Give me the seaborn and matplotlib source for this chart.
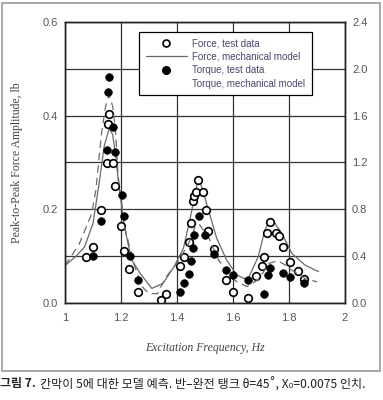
import numpy as np
import pandas as pd
import seaborn as sns
import matplotlib.pyplot as plt
from matplotlib.lines import Line2D
from matplotlib.patches import Rectangle

# force test data (left axis, lb)
force_x = [1.074, 1.099, 1.129, 1.149, 1.152, 1.158, 1.170, 1.180, 1.200, 1.210,
           1.229, 1.261, 1.342, 1.361, 1.411, 1.426, 1.442, 1.451, 1.458, 1.460,
           1.467, 1.476, 1.492, 1.502, 1.512, 1.532, 1.574, 1.601, 1.652, 1.682,
           1.702, 1.712, 1.722, 1.733, 1.752, 1.763, 1.777, 1.805, 1.833, 1.854]
force_y = [0.098, 0.119, 0.199, 0.300, 0.382, 0.404, 0.300, 0.250, 0.164, 0.112,
           0.073, 0.023, 0.006, 0.019, 0.078, 0.099, 0.130, 0.170, 0.218, 0.229,
           0.237, 0.263, 0.237, 0.199, 0.154, 0.116, 0.049, 0.024, 0.011, 0.058,
           0.078, 0.099, 0.149, 0.174, 0.149, 0.144, 0.119, 0.088, 0.069, 0.051]

# torque test data (right axis)
torque_x = [1.100, 1.130, 1.149, 1.155, 1.158, 1.171, 1.180, 1.202, 1.210, 1.231,
            1.261, 1.411, 1.425, 1.443, 1.451, 1.456, 1.461, 1.477, 1.501, 1.531,
            1.575, 1.601, 1.652, 1.712, 1.724, 1.733, 1.779, 1.805, 1.854]
torque_y = [0.40, 0.70, 1.31, 1.80, 1.93, 1.50, 1.29, 0.92, 0.74, 0.40,
            0.20, 0.09, 0.17, 0.25, 0.36, 0.47, 0.58, 0.74, 0.58, 0.42,
            0.28, 0.24, 0.20, 0.08, 0.24, 0.30, 0.26, 0.22, 0.17]

# force mechanical model
fmod_x = [1.00, 1.04, 1.07, 1.10, 1.123, 1.14, 1.158, 1.17, 1.18, 1.19, 1.212, 1.238,
          1.27, 1.31, 1.35, 1.39, 1.423, 1.445, 1.458, 1.476, 1.49, 1.51, 1.542,
          1.577, 1.613, 1.652, 1.69, 1.714, 1.732, 1.75, 1.774, 1.81, 1.857, 1.905]
fmod_y = [0.080, 0.100, 0.120, 0.170, 0.260, 0.335, 0.373, 0.360, 0.320, 0.263, 0.163, 0.092,
          0.062, 0.031, 0.042, 0.078, 0.117, 0.175, 0.213, 0.266, 0.245, 0.203, 0.138,
          0.092, 0.060, 0.049, 0.099, 0.156, 0.177, 0.170, 0.149, 0.106, 0.081, 0.067]

# torque mechanical model (right axis)
tmod_x = [1.00, 1.05, 1.095, 1.11, 1.12, 1.13, 1.145, 1.158, 1.17, 1.18, 1.19, 1.214,
          1.245, 1.275, 1.30, 1.33, 1.36, 1.40, 1.44, 1.465, 1.48, 1.515, 1.55, 1.60,
          1.65, 1.69, 1.73, 1.76, 1.79, 1.81, 1.857, 1.90]
tmod_y = [0.32, 0.50, 0.76, 0.96, 1.20, 1.44, 1.68, 1.78, 1.68, 1.48, 1.08, 0.64,
          0.34, 0.14, 0.08, 0.08, 0.22, 0.34, 0.50, 0.65, 0.67, 0.55, 0.36, 0.20,
          0.14, 0.20, 0.34, 0.36, 0.32, 0.28, 0.21, 0.18]

x_ticks = [1, 1.2, 1.4, 1.6, 1.8, 2]
x_labels = ["1", "1.2", "1.4", "1.6", "1.8", "2"]
left_labels = ["0.0", "", "0.2", "", "0.4", "", "0.6"]
right_labels = ["0.0", "0.4", "0.8", "1.2", "1.6", "2.0", "2.4"]

sns.set_style("white")
plt.rcParams['font.family'] = ['Liberation Sans', 'DejaVu Sans']

fig = plt.figure(figsize=(3.83, 4.0), dpi=100)
ax = fig.add_axes([65/383, 97/400, 280/383, 281/400])
ax2 = ax.twinx()

grey = "#555555"
line_c = "#6a6a6a"

sns.lineplot(x=fmod_x, y=fmod_y, ax=ax, color=line_c, lw=0.9, sort=False)
sns.scatterplot(x=force_x, y=force_y, ax=ax, marker="o", s=30, facecolor="white",
                edgecolor="black", linewidth=1.2, zorder=4)
sns.lineplot(x=tmod_x, y=tmod_y, ax=ax2, color=line_c, lw=0.9, sort=False,
             linestyle=(0, (6, 4)))
sns.scatterplot(x=torque_x, y=torque_y, ax=ax2, marker="o", s=30, color="black",
                edgecolor="black", linewidth=0.5, zorder=4)

ax.set_xlim(1, 2)
ax.set_ylim(0, 0.6)
ax2.set_ylim(0, 2.4)
ax.set_yticks(np.arange(0, 0.61, 0.1))
ax.set_yticklabels(left_labels)
ax2.set_yticks(np.arange(0, 2.41, 0.4))
ax2.set_yticklabels(right_labels)
ax.set_xticks(x_ticks)
ax.set_xticklabels(x_labels)
ax.grid(True, color="#333333", lw=0.9)
ax.set_axisbelow(True)
for a in (ax, ax2):
    a.tick_params(length=0, labelsize=8, labelcolor=grey, pad=5)
    for s in a.spines.values():
        s.set_color("#222222")
        s.set_linewidth(1.0)
ax.tick_params(axis="x", pad=7)

ax.set_xlabel("Excitation Frequency, Hz", family="Liberation Serif", style="italic",
              fontsize=8.5, color="#444444", labelpad=14)
ax.set_ylabel("Peak-to-Peak Force Amplitude, lb", family="Liberation Serif",
              fontsize=8.5, color="#444444", labelpad=14)

handles = [
    Line2D([], [], marker="o", ls="none", markerfacecolor="white", markeredgecolor="black",
           markersize=5, markeredgewidth=1.2),
    Line2D([], [], color=line_c, lw=0.9),
    Line2D([], [], marker="o", ls="none", color="black", markersize=5.5),
    Line2D([], [], color="white", lw=0.9),
]
labels = ["Force, test data", "Force, mechanical model", "Torque, test data",
          "Torque, mechanical model"]
leg = ax2.legend(handles, labels, loc="upper left", bbox_to_anchor=(0.264, 0.966),
                 fontsize=7, frameon=True, fancybox=False, edgecolor="black",
                 framealpha=1, handlelength=4.2, borderpad=0.7, labelspacing=0.35,
                 handletextpad=0.6, borderaxespad=0)
leg.get_frame().set_linewidth(0.9)
for t in leg.get_texts():
    t.set_color("#4b4470")

fig.patches.append(Rectangle((2/383, 29/400), 378/383, 368/400, transform=fig.transFigure,
                             fill=False, edgecolor="#999999", lw=1.2))

fig.text(0.0, 16/400, "그림 7.", family=["Noto Sans CJK KR", "DejaVu Sans"],
         fontsize=8.6, fontweight="bold", color="#222222", va="center")
fig.text(40/383, 16/400, "칸막이 5에 대한 모델 예측. 반–완전 탱크 θ=45˚, X₀=0.0075 인치.",
         family=["Noto Sans CJK KR", "DejaVu Sans"], fontsize=8.7, color="#222222",
         va="center")

fig.savefig("out.png", dpi=100)
